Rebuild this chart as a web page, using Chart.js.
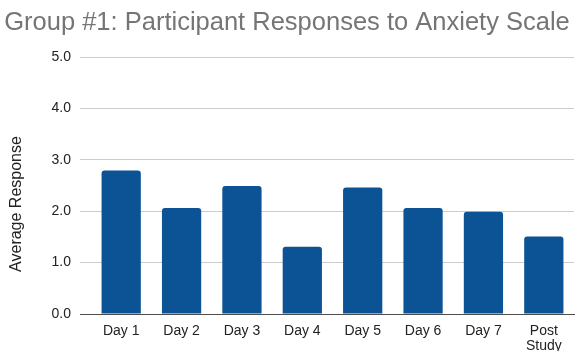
<!DOCTYPE html>
<html>
<head>
<meta charset="utf-8">
<script src="https://cdn.jsdelivr.net/npm/chart.js@4/dist/chart.umd.min.js"></script>
<style>
  html, body { margin: 0; padding: 0; background: #fff; }
  #wrap { width: 578px; height: 351px; }
</style>
</head>
<body>
<div id="wrap"><canvas id="graph"></canvas></div>
<script>
const days = ['Day 1', 'Day 2', 'Day 3', 'Day 4', 'Day 5', 'Day 6', 'Day 7', ['Post', 'Study']];
const avgResponse = [2.79, 2.06, 2.49, 1.31, 2.46, 2.06, 1.99, 1.51];
const yTicks = [0, 1, 2, 3, 4, 5];
const yTitle = 'Average Response';

const font = 'Arial, "Liberation Sans", sans-serif';

// vertical axis title, centred over plot + category labels
const yTitlePlugin = {
    id: 'yTitle',
    afterDraw(chart) {
        const ctx = chart.ctx;
        const mid = (chart.chartArea.top + chart.height) / 2;
        ctx.save();
        ctx.translate(17, mid);
        ctx.rotate(-Math.PI / 2);
        ctx.font = '16px ' + font;
        ctx.fillStyle = '#222';
        ctx.textAlign = 'center';
        ctx.textBaseline = 'middle';
        ctx.fillText(yTitle, 0, 0);
        ctx.restore();
    }
};

window.addEventListener('DOMContentLoaded', () => {
    const graph = document.getElementById('graph');
    new Chart(graph, {
        type: 'bar',
        data: {
            labels: days,
            datasets: [{
                label: yTitle,
                data: avgResponse,
                backgroundColor: '#0b5394',
                borderRadius: {topLeft: 3, topRight: 3},
                borderSkipped: 'bottom',
                barPercentage: 0.65,
                categoryPercentage: 1
            }]
        },
        options: {
            responsive: true,
            maintainAspectRatio: false,
            animation: false,
            layout: {padding: {right: 4, bottom: 0}},
            plugins: {
                legend: {display: false},
                tooltip: {enabled: false},
                title: {
                    display: true,
                    text: 'Group #1: Participant Responses to Anxiety Scale',
                    color: '#757575',
                    font: {family: font, size: 25.5, weight: 'normal'},
                    padding: {top: 8, bottom: 18.4}
                }
            },
            scales: {
                x: {
                    grid: {display: false, drawTicks: false},
                    border: {display: true, color: '#4d4d4d', width: 1},
                    ticks: {
                        color: '#222',
                        font: {family: font, size: 14, lineHeight: 1.05},
                        padding: 10,
                        maxRotation: 0,
                        autoSkip: false
                    },
                    afterFit: (s) => { s.height = 37; }
                },
                y: {
                    min: 0,
                    max: 5,
                    afterBuildTicks: (s) => { s.ticks = yTicks.map(v => ({value: v})); },
                    grid: {
                        color: (c) => c.tick && c.tick.value === 0 ? '#4d4d4d' : '#cccccc',
                        tickColor: (c) => c.tick && c.tick.value === 0 ? '#4d4d4d' : '#cccccc',
                        tickLength: 11,
                        lineWidth: 1
                    },
                    border: {display: false},
                    ticks: {
                        color: '#222',
                        font: {family: font, size: 14},
                        padding: 9,
                        callback: (v) => v.toFixed(1)
                    },
                    afterFit: (s) => { s.width = 91; }
                }
            }
        },
        plugins: [yTitlePlugin]
    });
});
</script>
</body>
</html>
